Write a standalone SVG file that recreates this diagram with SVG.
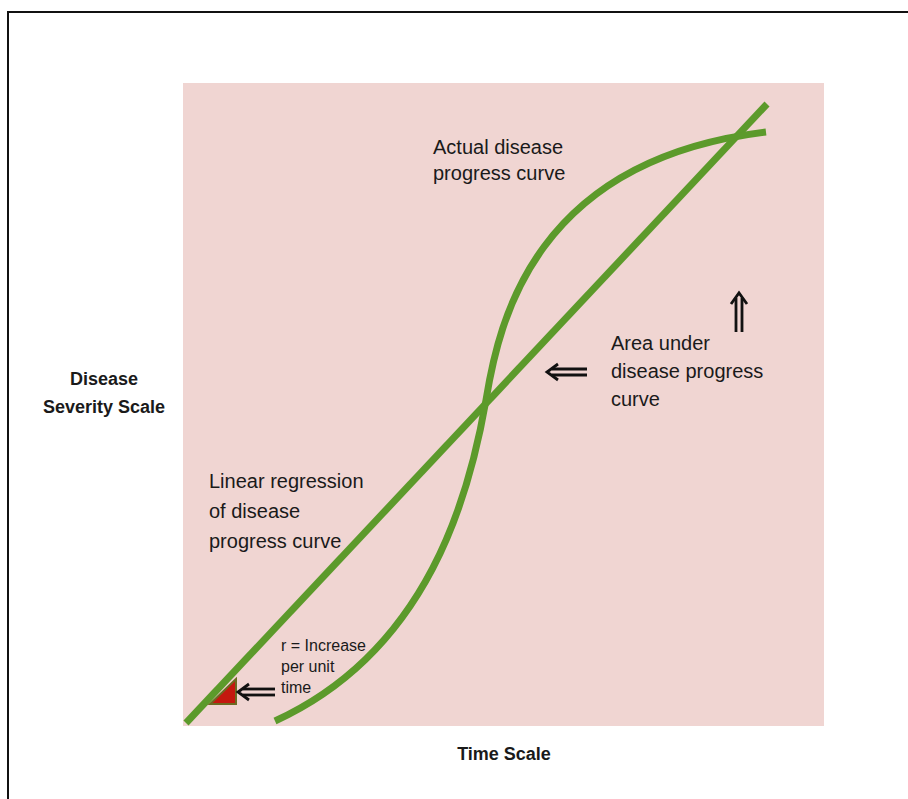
<svg xmlns="http://www.w3.org/2000/svg" width="908" height="799" viewBox="0 0 908 799">
<style>
.t{font-family:"Liberation Sans",Arial,sans-serif;fill:#1a1a1a}
.lab{font-size:20px}
.sm{font-size:16px}
.b{font-size:18px;font-weight:bold}
.g{fill:none;stroke:#5c9a2b;stroke-width:7;stroke-linecap:butt}
.ar{fill:none;stroke:#111;stroke-width:2.8}
</style>
<g id="frame">
<line x1="8" y1="12" x2="908" y2="12" stroke="#111" stroke-width="2"/>
<line x1="8" y1="11" x2="8" y2="799" stroke="#111" stroke-width="2"/>
</g>
<g id="plot-area">
<rect x="183" y="83" width="641" height="643" fill="#f0d5d2"/>
</g>
<g id="connectors">
<line id="regression-line" class="g" x1="186" y1="723" x2="767" y2="104"/>
<path id="progress-curve" class="g" d="M275,721 C430,650 470,492 486,400 C499,320 535,160 766,132"/>
<polygon id="r-triangle" points="236,679 210,704 236,704" fill="#c4180f" stroke="#6d6a22" stroke-width="2"/>
<g id="arrow-r">
<line class="ar" x1="243" y1="689" x2="275" y2="689"/>
<line class="ar" x1="243" y1="695" x2="275" y2="695"/>
<path class="ar" d="M249,684 L238,692 L249,700"/>
</g>
<g id="arrow-area">
<line class="ar" x1="552" y1="369" x2="587" y2="369"/>
<line class="ar" x1="552" y1="375" x2="587" y2="375"/>
<path class="ar" d="M558,364 L547,372 L558,380"/>
</g>
<g id="arrow-up">
<line class="ar" x1="736" y1="298" x2="736" y2="332"/>
<line class="ar" x1="742" y1="298" x2="742" y2="332"/>
<path class="ar" d="M731,304 L739,293 L747,304"/>
</g>
</g>
<g id="label-actual">
<text class="t lab" x="433" y="154">Actual disease</text>
<text class="t lab" x="433" y="180">progress curve</text>
</g>
<g id="label-area">
<text class="t lab" x="611" y="350">Area under</text>
<text class="t lab" x="611" y="378">disease progress</text>
<text class="t lab" x="611" y="406">curve</text>
</g>
<g id="label-linear">
<text class="t lab" x="209" y="488">Linear regression</text>
<text class="t lab" x="209" y="518">of disease</text>
<text class="t lab" x="209" y="548">progress curve</text>
</g>
<g id="label-r">
<text class="t sm" x="281" y="651">r = Increase</text>
<text class="t sm" x="281" y="672">per unit</text>
<text class="t sm" x="281" y="693">time</text>
</g>
<g id="axis-y">
<text class="t b" x="104" y="385" text-anchor="middle">Disease</text>
<text class="t b" x="104" y="413" text-anchor="middle">Severity Scale</text>
</g>
<g id="axis-x">
<text class="t b" x="504" y="760" text-anchor="middle">Time Scale</text>
</g>
</svg>
